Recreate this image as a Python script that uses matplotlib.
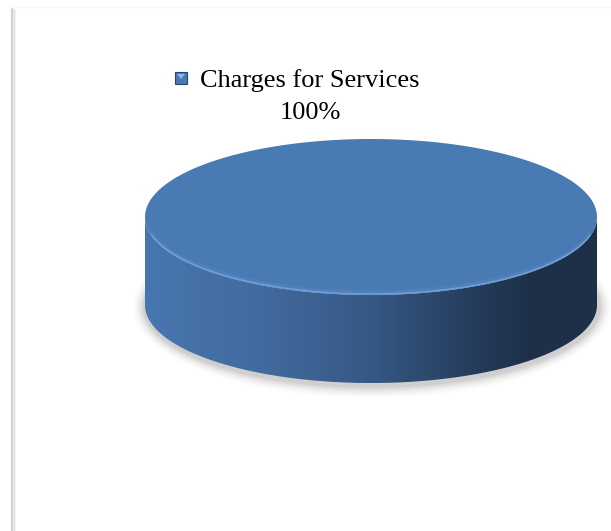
import numpy as np
import matplotlib
matplotlib.use("Agg")
import matplotlib.pyplot as plt
from matplotlib.patches import Polygon, Rectangle, Ellipse
from matplotlib.colors import LinearSegmentedColormap

# Revenue share by source
categories = ["Charges for Services"]
values = [100.0]
pct_labels = ["100%"]

W, H = 611, 531
fig = plt.figure(figsize=(W / 100, H / 100), dpi=100)
ax = fig.add_axes([0, 0, 1, 1])
ax.set_xlim(0, W)
ax.set_ylim(H, 0)
ax.axis("off")

# chart frame (only left and top edges visible)
for off, c in [(2.5, "#f2f2f2"), (1.5, "#e4e4e4")]:
    ax.plot([12 + off, 12 + off], [9, H], color=c, lw=1.2, solid_capstyle="butt")
ax.plot([12, 12], [8, H], color="#d4d4d4", lw=1.6, solid_capstyle="butt")
ax.plot([12, W], [7, 7], color="#f7f7f7", lw=1.0)

# pie geometry
cx, cy, a, b, depth = 371, 217, 226, 78, 88
top_color = (74 / 255, 122 / 255, 180 / 255)

def ell(t, dy=0.0):
    return cx + a * np.cos(t), cy + b * np.sin(t) + dy

# soft shadow under the disc
for i, al in enumerate(np.linspace(0.05, 0.012, 6)):
    ax.add_patch(Ellipse((cx + 1, cy + depth + 2), 2 * a + 6 + 4 * i, 2 * b + 6 + 4 * i,
                         facecolor="black", edgecolor="none", alpha=al, zorder=1))

side_cmap = LinearSegmentedColormap.from_list(
    "side",
    [(0.0, (72 / 255, 118 / 255, 175 / 255)),
     (0.25, (66 / 255, 107 / 255, 160 / 255)),
     (0.5, (54 / 255, 88 / 255, 132 / 255)),
     (0.75, (36 / 255, 58 / 255, 88 / 255)),
     (0.85, (30 / 255, 48 / 255, 73 / 255)),
     (1.0, (30 / 255, 48 / 255, 72 / 255))])

total = sum(values)
start = 0.0
for v in values:
    frac = v / total
    t0, t1 = start, start + 2 * np.pi * frac
    start = t1
    # front side wall (visible where sin(t) > 0 in a y-down frame)
    lo, hi = max(t0, 0.0), min(t1, np.pi)
    if hi > lo:
        ts = np.linspace(lo, hi, 300)
        xt, yt = ell(ts)
        xb, yb = ell(ts[::-1], depth)
        pts = np.column_stack([np.r_[xt, xb], np.r_[yt, yb]])
        poly = Polygon(pts, closed=True, facecolor="none", edgecolor="none")
        ax.add_patch(poly)
        grad = np.linspace(0, 1, 256)[None, :]
        im = ax.imshow(grad, cmap=side_cmap, extent=[cx - a, cx + a, cy + b + depth + 2, cy - 2],
                       aspect="auto", zorder=2, interpolation="bilinear")
        im.set_clip_path(poly)
    # top face
    ts = np.linspace(t0, t1, 600)
    xt, yt = ell(ts)
    if frac < 1:
        xt, yt = np.r_[cx, xt], np.r_[cy, yt]
    ax.add_patch(Polygon(np.column_stack([xt, yt]), closed=True,
                         facecolor=top_color, edgecolor="none", zorder=3))

# light rim along the front edge of the top face
ts = np.linspace(0.25, np.pi - 0.25, 300)
xr, yr = ell(ts)
ax.plot(xr, yr - 1, color=(120 / 255, 168 / 255, 225 / 255), lw=1.2, alpha=0.8, zorder=4)
ax.plot(xr, yr - 3, color=(90 / 255, 140 / 255, 200 / 255), lw=2.0, alpha=0.35, zorder=4)

# legend entry
mx, my, ms = 175, 72, 12
ax.add_patch(Rectangle((mx, my), ms, ms, facecolor=(74 / 255, 122 / 255, 180 / 255),
                       edgecolor=(40 / 255, 70 / 255, 110 / 255), lw=0.8, zorder=5))
ax.add_patch(Polygon([[mx + 2, my + 2], [mx + ms - 2, my + 2], [mx + ms / 2, my + ms / 2 + 1]],
                     closed=True, facecolor=(140 / 255, 185 / 255, 235 / 255), edgecolor="none", zorder=6))
ax.text(200, 81, categories[0], fontsize=19, family="Liberation Serif",
        ha="left", va="center", color="black")
ax.text(310, 113, pct_labels[0], fontsize=19, family="Liberation Serif",
        ha="center", va="center", color="black")

fig.savefig("out.png", dpi=100, facecolor="white")
